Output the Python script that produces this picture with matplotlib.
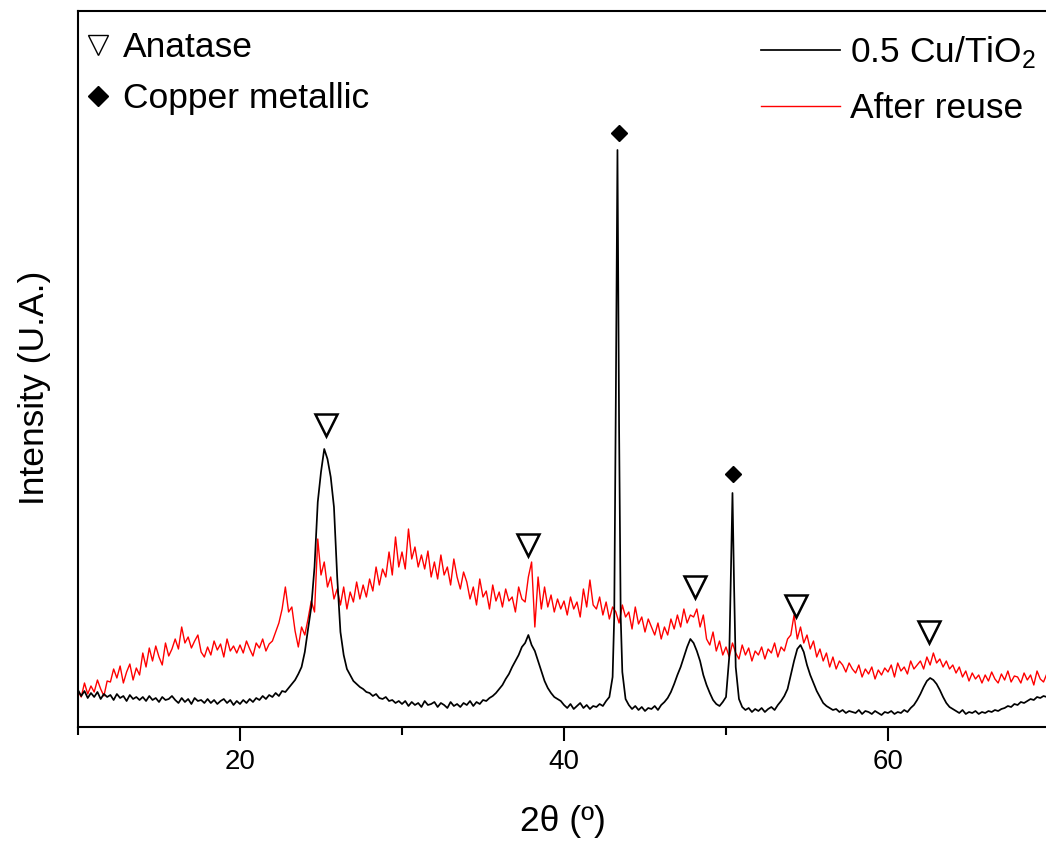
import matplotlib
matplotlib.use('Agg')
import matplotlib.pyplot as plt
from matplotlib.lines import Line2D
import numpy as np

plt.rcParams.update({
    'font.family': ['Liberation Sans', 'DejaVu Sans'],
    'mathtext.fontset': 'custom',
    'mathtext.rm': 'Liberation Sans',
    'figure.facecolor': 'white',
    'axes.facecolor': 'white',
})

# 2theta sampling grid (degrees), 0.2 deg steps from 10 to 69.8
two_theta = np.round(np.arange(10.0, 70.0, 0.2), 1)

# 0.5 Cu/TiO2 (fresh), intensity in arbitrary units, one row per 2 degrees
fresh = [
    37, 31, 36, 29, 34, 30, 35, 28, 33, 30,          # 10
    32, 27, 33, 29, 31, 26, 32, 28, 30, 27,          # 12
    30, 26, 31, 27, 29, 25, 30, 27, 28, 31,          # 14
    27, 24, 29, 25, 28, 23, 29, 26, 27, 24,          # 16
    28, 24, 27, 23, 26, 28, 24, 27, 22, 26,          # 18
    23, 27, 24, 28, 25, 29, 27, 31, 28, 32,          # 20
    30, 34, 31, 36, 35, 39, 43, 47, 53, 60,          # 22
    75, 98, 120, 160, 225, 255, 278, 268, 250, 220,  # 24
    150, 95, 72, 58, 52, 46, 43, 40, 38, 35,         # 26
    34, 31, 33, 29, 28, 30, 26, 27, 24, 26,          # 28
    23, 26, 21, 25, 22, 24, 20, 26, 22, 23,          # 30
    25, 20, 24, 22, 19, 25, 21, 23, 20, 24,          # 32
    22, 26, 21, 25, 23, 27, 26, 29, 31, 34,          # 34
    38, 42, 48, 53, 60, 66, 72, 80, 84, 92,          # 36
    82, 76, 66, 56, 46, 39, 34, 30, 28, 26,          # 38
    22, 19, 23, 18, 21, 24, 19, 22, 18, 21,          # 40
    20, 23, 21, 26, 30, 50, 330, 300, 55, 28,        # 42
    22, 18, 21, 17, 20, 16, 19, 18, 21, 17,          # 44
    22, 25, 29, 35, 43, 52, 60, 70, 80, 88,          # 46
    84, 76, 66, 52, 42, 34, 27, 23, 21, 25,          # 48
    30, 70, 234, 60, 28, 20, 17, 19, 15, 18,         # 50
    16, 19, 15, 18, 20, 17, 22, 26, 31, 38,          # 52
    52, 66, 78, 82, 75, 62, 52, 44, 36, 30,          # 54
    24, 21, 19, 17, 18, 15, 17, 14, 16, 15,          # 56
    14, 17, 13, 16, 15, 13, 16, 14, 12, 15,          # 58
    14, 16, 13, 15, 14, 17, 15, 19, 22, 27,          # 60
    33, 40, 46, 49, 47, 43, 37, 30, 24, 20,          # 62
    18, 16, 14, 17, 13, 15, 14, 16, 13, 15,          # 64
    14, 16, 15, 17, 16, 18, 19, 21, 20, 23,          # 66
    22, 25, 24, 26, 28, 27, 30, 29, 31, 30,          # 68
]

# extra points on the narrow copper reflections
cu_fine_theta = [43.1, 43.3, 43.5, 50.3, 50.5]
cu_fine_fresh = [110, 577, 110, 150, 140]

# after reuse
reused = [
    36, 30, 44, 33, 41, 35, 47, 38, 31, 46,          # 10
    45, 58, 49, 61, 44, 55, 63, 47, 59, 52,          # 12
    74, 60, 79, 66, 81, 70, 62, 84, 71, 78,          # 14
    88, 78, 100, 84, 90, 79, 86, 92, 75, 70,         # 16
    80, 72, 86, 77, 83, 70, 88, 76, 81, 74,          # 18
    82, 74, 86, 78, 71, 84, 79, 88, 76, 83,          # 20
    86, 95, 104, 118, 140, 115, 120, 96, 80, 100,    # 22
    92, 108, 126, 115, 188, 152, 165, 140, 150, 128, # 24
    138, 122, 140, 118, 135, 125, 145, 128, 142, 130,  # 26
    148, 136, 160, 142, 158, 150, 175, 152, 190, 160,  # 28
    175, 158, 198, 168, 180, 160, 172, 158, 176, 150,  # 30
    165, 148, 172, 152, 160, 142, 168, 150, 138, 155,  # 32
    145, 128, 140, 122, 148, 130, 136, 118, 142, 126,  # 34
    135, 120, 138, 126, 130, 115, 140, 128, 125, 150,  # 36
    165, 100, 150, 118, 140, 120, 132, 115, 128, 118,  # 38
    126, 112, 130, 118, 125, 110, 138, 120, 147, 122,  # 40
    118, 130, 112, 125, 108, 120, 115, 104, 122, 110,  # 42
    115, 98, 120, 103, 110, 95, 108, 100, 92, 104,   # 44
    88, 100, 92, 108, 98, 112, 100, 118, 104, 112,   # 46
    110, 118, 100, 112, 88, 82, 95, 76, 86, 72,      # 48
    80, 70, 84, 74, 68, 82, 72, 79, 66, 76,          # 50
    72, 80, 68, 78, 74, 84, 70, 80, 76, 88,          # 52
    92, 112, 88, 100, 84, 92, 78, 86, 70, 78,        # 54
    66, 74, 60, 70, 58, 66, 62, 55, 64, 58,          # 56
    54, 62, 50, 58, 53, 60, 48, 57, 52, 59,          # 58
    55, 62, 50, 64, 56, 60, 53, 66, 58, 62,          # 60
    66, 58, 70, 62, 74, 64, 68, 60, 66, 58,          # 62
    62, 54, 60, 50, 56, 46, 54, 48, 52, 44,          # 64
    52, 46, 55, 48, 44, 53, 47, 56, 45, 51,          # 66
    50, 44, 54, 47, 52, 42, 56, 48, 45, 53,          # 68
]

# phase markers (2theta, height above the peak)
anatase_theta = [25.3, 37.8, 48.1, 54.3, 62.5]
anatase_y = [302, 182, 140, 121, 95]
copper_theta = [43.4, 50.45]
copper_y = [594, 253]

series_labels = ['0.5 Cu/TiO$_2$', 'After reuse']
phase_labels = ['Anatase', 'Copper metallic']

W, H = 1046, 842


def main():
    fig = plt.figure(figsize=(W / 100, H / 100), dpi=100)
    # x axis runs 10..70, the right end is cropped by the figure edge
    ax = fig.add_axes([78 / W, 1 - 727 / H, 972 / W, 716 / H])

    x_fresh = np.concatenate([two_theta, cu_fine_theta])
    y_fresh = np.concatenate([fresh, cu_fine_fresh])
    order = np.argsort(x_fresh)

    ax.plot(two_theta, reused, color='#ff0000', lw=1.0, label=series_labels[1])
    ax.plot(x_fresh[order], y_fresh[order], color='black', lw=1.25, label=series_labels[0])

    ax.plot(anatase_theta, anatase_y, ls='none', marker='v', ms=16,
            mfc='white', mec='black', mew=1.8)
    ax.plot(copper_theta, copper_y, ls='none', marker='D', ms=8.5,
            mfc='black', mec='black')

    ax.set_xlim(10, 70)
    ax.set_ylim(0, 716)
    ax.set_xticks([20, 40, 60])
    ax.set_xticks([10, 30, 50, 70], minor=True)
    ax.set_yticks([])
    ax.tick_params(axis='x', which='major', direction='out', length=10, width=1.5,
                   labelsize=20, pad=6)
    ax.tick_params(axis='x', which='minor', direction='out', length=6, width=1.5)
    for side in ['left', 'top', 'bottom']:
        ax.spines[side].set_linewidth(1.5)
    ax.spines['right'].set_visible(False)

    # series legend (top right)
    handles, labels = ax.get_legend_handles_labels()
    leg1 = ax.legend(handles[::-1], labels[::-1], loc='upper right',
                     bbox_to_anchor=(1036 / W, 1 - 34 / H), bbox_transform=fig.transFigure,
                     frameon=False, fontsize=25.5, handlelength=2.25, handletextpad=0.28,
                     labelspacing=0.62, borderpad=0, borderaxespad=0)
    ax.add_artist(leg1)

    # phase legend (top left)
    phase_handles = [
        Line2D([], [], ls='none', marker='v', ms=14, mfc='white', mec='black', mew=1.0),
        Line2D([], [], ls='none', marker='D', ms=10, mfc='black', mec='black'),
    ]
    ax.legend(phase_handles, phase_labels, loc='upper left',
              bbox_to_anchor=(84 / W, 1 - 31 / H), bbox_transform=fig.transFigure,
              frameon=False, fontsize=25.5, handlelength=0.8, handletextpad=0.3,
              labelspacing=0.52, borderpad=0, borderaxespad=0)

    fig.text(35 / W, 1 - 388 / H, 'Intensity (U.A.)', rotation=90,
             ha='center', va='center', fontsize=25.5)
    fig.text(563 / W, 1 - 821 / H, '2\u03b8 (\u00ba)', ha='center', va='center',
             fontsize=25.5)

    fig.savefig('out.png', dpi=100)
    plt.close(fig)


if __name__ == '__main__':
    main()
